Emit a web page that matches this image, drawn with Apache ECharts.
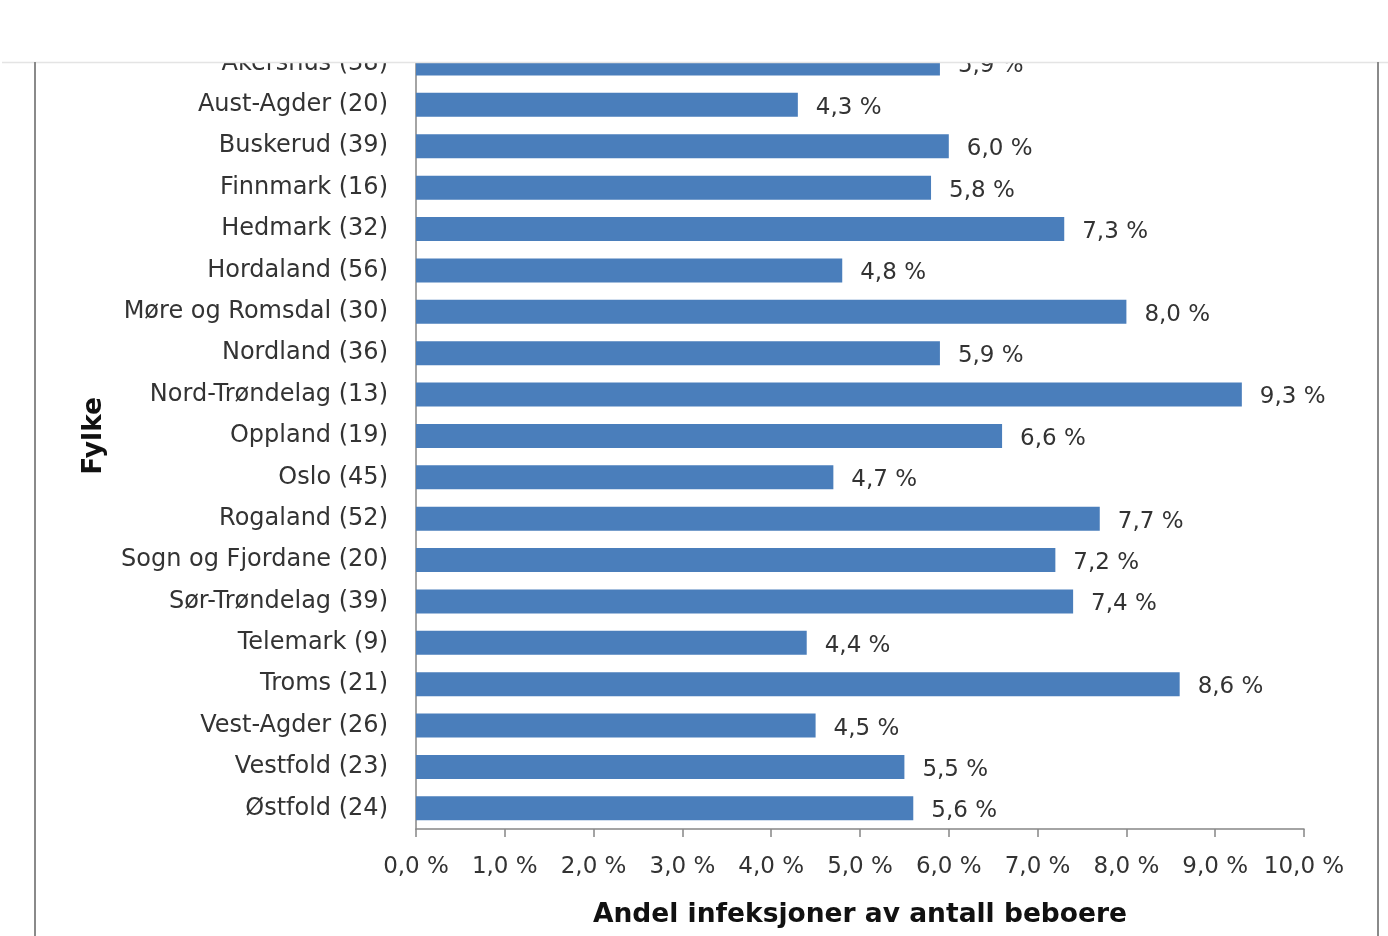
<!DOCTYPE html>
<html>
<head>
<meta charset="utf-8">
<script src="https://cdn.jsdelivr.net/npm/echarts@6/dist/echarts.min.js"></script>
<style>html,body{margin:0;padding:0;background:#fff}#c{width:1388px;height:936px}</style>
</head>
<body>
<div id="c"></div>
<script>
const categories = ["Akershus (38)","Aust-Agder (20)","Buskerud (39)","Finnmark (16)","Hedmark (32)","Hordaland (56)","Møre og Romsdal (30)","Nordland (36)","Nord-Trøndelag (13)","Oppland (19)","Oslo (45)","Rogaland (52)","Sogn og Fjordane (20)","Sør-Trøndelag (39)","Telemark (9)","Troms (21)","Vest-Agder (26)","Vestfold (23)","Østfold (24)"];
const values = [5.9,4.3,6.0,5.8,7.3,4.8,8.0,5.9,9.3,6.6,4.7,7.7,7.2,7.4,4.4,8.6,4.5,5.5,5.6];
const xTitle = "Andel infeksjoner av antall beboere";
const yTitle = "Fylke";

const fmt = v => v.toFixed(1).replace('.', ',') + ' %';
const FONT = 'DejaVu Sans';
const TXT = '#333333';
const chart = echarts.init(document.getElementById('c'), null, {renderer: 'canvas'});
chart.setOption({
  animation: false,
  backgroundColor: '#fff',
  grid: {left: 416, right: 84, top: 42.8, bottom: 107, containLabel: false},
  xAxis: {
    type: 'value', min: 0, max: 10, interval: 1,
    axisLine: {show: true, lineStyle: {color: '#868686', width: 1.5}},
    axisTick: {show: true, length: 8, lineStyle: {color: '#868686', width: 1.5}},
    splitLine: {show: false},
    axisLabel: {formatter: fmt, fontFamily: FONT, fontSize: 23, color: TXT, margin: 27},
    name: xTitle, nameLocation: 'middle', nameGap: 73,
    nameTextStyle: {fontFamily: FONT, fontWeight: 'bold', fontSize: 26.5, color: '#111'}
  },
  yAxis: {
    type: 'category', data: categories, inverse: true,
    axisLine: {show: true, lineStyle: {color: '#868686', width: 1.5}},
    axisTick: {show: false},
    axisLabel: {fontFamily: FONT, fontSize: 24, color: TXT, margin: 28},
    name: yTitle, nameLocation: 'middle', nameGap: 308, nameRotate: 90,
    nameTextStyle: {fontFamily: FONT, fontWeight: 'bold', fontSize: 26.5, color: '#111'}
  },
  series: [{
    type: 'bar', data: values, barWidth: 24,
    itemStyle: {color: '#4a7ebb'},
    label: {show: true, position: 'right', distance: 18, formatter: p => fmt(p.value),
      fontFamily: FONT, fontSize: 23, color: TXT, offset: [0, 3]}
  }],
  graphic: [
    {type: 'rect', z: 100, shape: {x: 0, y: 0, width: 1388, height: 62}, style: {fill: '#fff'}},
    {type: 'line', z: 101, shape: {x1: 2, y1: 62.5, x2: 1388, y2: 62.5}, style: {stroke: '#e4e4e4', lineWidth: 1.5}},
    {type: 'line', z: 101, shape: {x1: 35, y1: 62, x2: 35, y2: 936}, style: {stroke: '#8a8a8a', lineWidth: 2}},
    {type: 'line', z: 101, shape: {x1: 1378, y1: 62, x2: 1378, y2: 936}, style: {stroke: '#8a8a8a', lineWidth: 2}}
  ]
});
</script>
</body>
</html>
